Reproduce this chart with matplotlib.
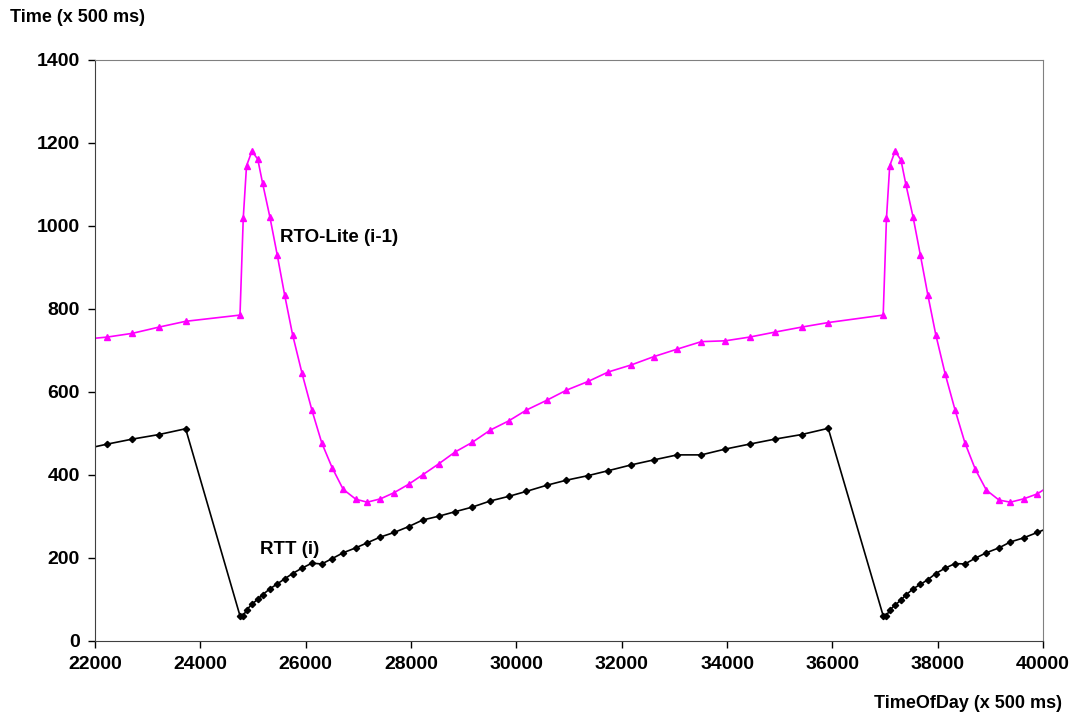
import matplotlib
matplotlib.use("Agg")
from matplotlib import pyplot as plt

plt.rcParams['font.family'] = ['Liberation Sans', 'DejaVu Sans']
plt.rcParams['font.weight'] = 'bold'

# time of day (x 500 ms) of each sample
tod = [21300, 22233, 22708, 23214, 23721, 24753, 24815, 24877, 24979, 25090,
       25182, 25321, 25460, 25600, 25751, 25930, 26118, 26305, 26503, 26712,
       26953, 27168, 27420, 27680, 27953, 28222, 28522, 28837, 29160, 29508,
       29856, 30190, 30583, 30951, 31362, 31748, 32185, 32613, 33055, 33512,
       33967, 34429, 34910, 35415, 35921, 36965, 37027, 37089, 37191, 37302,
       37394, 37533, 37672, 37812, 37963, 38142, 38330, 38517, 38715, 38924,
       39165, 39380, 39632, 39892, 40165]

rtt = [448, 474, 486, 497, 511, 60, 60, 74, 88, 100,
       111, 125, 137, 149, 162, 175, 187, 185, 198, 212,
       224, 236, 250, 261, 275, 291, 300, 311, 322, 337,
       348, 360, 375, 387, 398, 410, 424, 436, 448, 448,
       462, 474, 486, 497, 512, 60, 60, 74, 86, 98,
       110, 125, 136, 147, 162, 175, 186, 185, 199, 212,
       224, 238, 248, 261, 275]

rto = [721, 732, 741, 756, 770, 785, 1019, 1145, 1180, 1161,
       1103, 1021, 930, 834, 738, 645, 556, 477, 417, 365,
       341, 334, 342, 357, 377, 400, 426, 455, 478, 508,
       530, 556, 580, 604, 625, 648, 665, 685, 703, 721,
       723, 732, 744, 756, 767, 785, 1018, 1145, 1180, 1159,
       1101, 1021, 929, 834, 738, 643, 556, 477, 413, 363,
       339, 334, 342, 354, 377]

fig = plt.figure(figsize=(10.71, 7.15), dpi=100)
ax = fig.add_axes([0.0887, 0.1039, 0.8852, 0.8122])

ax.plot(tod, rto, color='#ff00ff', lw=1.2, marker='^', ms=5, mec='#ff00ff', mfc='#ff00ff')
ax.plot(tod, rtt, color='black', lw=1.2, marker='D', ms=3.2)

ax.set_xlim(22000, 40000)
ax.set_ylim(0, 1400)
ax.set_xticks(range(22000, 40001, 2000))
ax.set_yticks(range(0, 1401, 200))
ax.tick_params(direction='out', length=5, width=1, labelsize=14, pad=6)
for lbl in ax.get_xticklabels() + ax.get_yticklabels():
    lbl.set_fontweight('bold')

ax.spines['left'].set_color('#404040')
ax.spines['bottom'].set_color('#404040')
ax.spines['top'].set_color('#808080')
ax.spines['right'].set_color('#808080')

ax.text(25510, 971, 'RTO-Lite (i-1)', fontsize=13.5, fontweight='bold', va='center', ha='left')
ax.text(25131, 221, 'RTT (i)', fontsize=13.5, fontweight='bold', va='center', ha='left')

fig.text(10 / 1071, 1 - 18 / 715, 'Time (x 500 ms)', fontsize=13, fontweight='bold', va='center', ha='left')
fig.text(1062 / 1071, 1 - 704 / 715, 'TimeOfDay (x 500 ms)', fontsize=13, fontweight='bold', va='center', ha='right')

fig.savefig('out.png', dpi=100)
